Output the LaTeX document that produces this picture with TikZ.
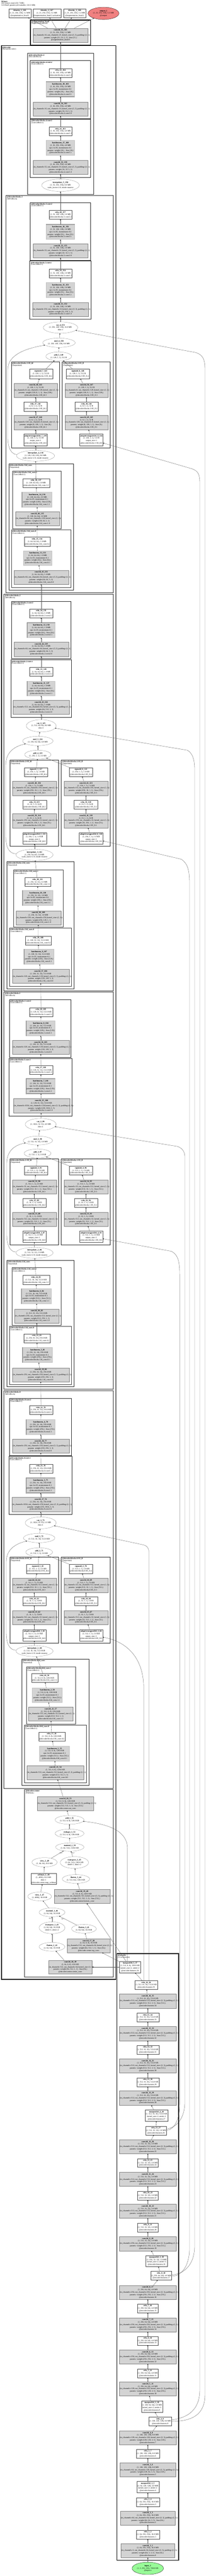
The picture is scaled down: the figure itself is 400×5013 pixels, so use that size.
\documentclass[tikz,border=0pt]{standalone}
\usepackage{fontspec}
\setmainfont{Liberation Serif}
\usepackage{array}
\usetikzlibrary{shapes.geometric}
\usetikzlibrary{arrows.meta}
\definecolor{pgray}{HTML}{D3D3D3}
\definecolor{outred}{HTML}{F08080}
\definecolor{ingreen}{HTML}{98FB98}
\newlength\zwid
\newcolumntype{Z}{>{\hbox to \zwid\bgroup\hfil}c<{\hfil\egroup}}
\newcommand{\zt}[1]{\pgfmathsetlength\zwid{\pgfkeysvalueof{/pgf/minimum width}-1.5}\hbox to 0pt{\hss\begin{tabular}{@{}Z@{}}#1\end{tabular}\hss}}

\begin{document}
\catcode`\_=12
\begin{tikzpicture}[x=1pt, y=-1pt,
    zw/.style={font=\fontsize{3.9}{4.8}\selectfont, inner sep=0pt, line width=0.3pt},
    fnode/.style={zw, ellipse, draw=gray, fill=white},
    mbox/.style={zw, rectangle, draw=black!70, fill=white},
    pbox/.style={zw, rectangle, draw=gray, fill=pgray},
    bnbox/.style={zw, rectangle, draw=gray, fill=pgray, double=pgray!80!gray, double distance=0.7pt},
    clab/.style={font=\fontsize{3.8}{3.7}\selectfont, align=left, anchor=north west, inner sep=0pt},
    clus1/.style={draw=black, line width=1.4pt},
    clus2/.style={draw=black!80, line width=1pt},
    clus3/.style={draw=black!85, line width=0.75pt},
    clus4/.style={draw=black!75, line width=0.55pt},
    link/.style={draw=black!65, line width=0.35pt, -{Stealth[length=2.2pt,width=1.8pt,color=black]}},
    elab/.style={font=\fontsize{2.8}{3}\selectfont, inner sep=0.4pt}]

    \path[use as bounding box, fill=white] (0,0) rectangle (400,5013);

    \node[clab] (title) at (2.5,1.5) {\textbf{MAnet}\\242 tensors total (431.7 MB)\\31539445 params (all trainable, 120.3 MB)};

    \draw[clus1] (59,39) rectangle (176,88);
    \node[clab] (lsh) at (60.5,40.5) {\textbf{@segmentation_head}\\(SegmentationHead)};
    \draw[clus1] (3,89) rectangle (225,3852);
    \node[clab] (ldec) at (4.5,90.5) {\textbf{@decoder}\\(MAnetDecoder)};
    \draw[clus2] (54,104) rectangle (182,378);
    \node[clab] (lbfour) at (55.5,105.5) {\textbf{@decoder.blocks.4}\\(DecoderBlock)};
    \draw[clus3] (59,118) rectangle (176,231);
    \node[clab] (lbfourctwo) at (60.5,119.5) {\textbf{@decoder.blocks.4.conv2}\\(Conv2dReLU)};
    \draw[clus3] (59,232) rectangle (176,345);
    \node[clab] (lbfourcone) at (60.5,233.5) {\textbf{@decoder.blocks.4.conv1}\\(Conv2dReLU)};

    \draw[clus2] (12,380) rectangle (220,1153);
    \node[clab] (lbthree) at (13.5,381.5) {\textbf{@decoder.blocks.3}\\(MFABlock)};
    \draw[clus3] (59,394) rectangle (176,507);
    \node[clab] (lbthreectwo) at (60.5,395.5) {\textbf{@decoder.blocks.3.conv2}\\(Conv2dReLU)};
    \draw[clus3] (58,508) rectangle (177,621);
    \node[clab] (lbthreecone) at (59.5,509.5) {\textbf{@decoder.blocks.3.conv1}\\(Conv2dReLU)};
    \draw[clus3] (22,704) rectangle (116,872);
    \node[clab] (lbthreehl) at (23.5,705.5) {\textbf{@decoder.blocks.3.SE_hl}\\(Sequential)};
    \draw[clus3] (121,704) rectangle (214,872);
    \node[clab] (lbthreell) at (122.5,705.5) {\textbf{@decoder.blocks.3.SE_ll}\\(Sequential)};
    \draw[clus3] (17,903) rectangle (143,1148);
    \node[clab] (lbthreehc) at (18.5,904.5) {\textbf{@decoder.blocks.3.hl_conv}\\(Sequential)};
    \draw[clus4] (24,917) rectangle (119,1029);
    \node[clab] (lbthreehcone) at (25.5,918.5) {\textbf{@decoder.blocks.3.hl_conv.1}\\(Conv2dReLU)};
    \draw[clus4] (22,1031) rectangle (138,1143);
    \node[clab] (lbthreehczero) at (23.5,1032.5) {\textbf{@decoder.blocks.3.hl_conv.0}\\(Conv2dReLU)};

    \draw[clus2] (8,1156) rectangle (220,1928.5);
    \node[clab] (lbtwo) at (9.5,1157.5) {\textbf{@decoder.blocks.2}\\(MFABlock)};
    \draw[clus3] (22,1170) rectangle (138,1282);
    \node[clab] (lbtwoctwo) at (23.5,1171.5) {\textbf{@decoder.blocks.2.conv2}\\(Conv2dReLU)};
    \draw[clus3] (21,1284) rectangle (139,1396);
    \node[clab] (lbtwocone) at (22.5,1285.5) {\textbf{@decoder.blocks.2.conv1}\\(Conv2dReLU)};
    \draw[clus3] (19,1479) rectangle (114,1647);
    \node[clab] (lbtwohl) at (20.5,1480.5) {\textbf{@decoder.blocks.2.SE_hl}\\(Sequential)};
    \draw[clus3] (119,1479) rectangle (214,1647);
    \node[clab] (lbtwoll) at (120.5,1480.5) {\textbf{@decoder.blocks.2.SE_ll}\\(Sequential)};
    \draw[clus3] (13,1677) rectangle (144,1924);
    \node[clab] (lbtwohc) at (14.5,1678.5) {\textbf{@decoder.blocks.2.hl_conv}\\(Sequential)};
    \draw[clus4] (26,1692.5) rectangle (123,1804);
    \node[clab] (lbtwohcone) at (27.5,1694) {\textbf{@decoder.blocks.2.hl_conv.1}\\(Conv2dReLU)};
    \draw[clus4] (18,1806) rectangle (139,1919);
    \node[clab] (lbtwohczero) at (19.5,1807.5) {\textbf{@decoder.blocks.2.hl_conv.0}\\(Conv2dReLU)};

    \draw[clus2] (8,1930.5) rectangle (220,2703);
    \node[clab] (lbone) at (9.5,1932) {\textbf{@decoder.blocks.1}\\(MFABlock)};
    \draw[clus3] (18,1945) rectangle (138,2057.5);
    \node[clab] (lbonectwo) at (19.5,1946.5) {\textbf{@decoder.blocks.1.conv2}\\(Conv2dReLU)};
    \draw[clus3] (17,2059.5) rectangle (140,2171.5);
    \node[clab] (lbonecone) at (18.5,2061) {\textbf{@decoder.blocks.1.conv1}\\(Conv2dReLU)};
    \draw[clus3] (19,2255) rectangle (114,2422.5);
    \node[clab] (lbonehl) at (20.5,2256.5) {\textbf{@decoder.blocks.1.SE_hl}\\(Sequential)};
    \draw[clus3] (119,2255) rectangle (214,2422.5);
    \node[clab] (lbonell) at (120.5,2256.5) {\textbf{@decoder.blocks.1.SE_ll}\\(Sequential)};
    \draw[clus3] (13,2453) rectangle (144,2698);
    \node[clab] (lbonehc) at (14.5,2454.5) {\textbf{@decoder.blocks.1.hl_conv}\\(Sequential)};
    \draw[clus4] (23,2467) rectangle (119,2579);
    \node[clab] (lbonehcone) at (24.5,2468.5) {\textbf{@decoder.blocks.1.hl_conv.1}\\(Conv2dReLU)};
    \draw[clus4] (18,2581) rectangle (139,2694);
    \node[clab] (lbonehczero) at (19.5,2582.5) {\textbf{@decoder.blocks.1.hl_conv.0}\\(Conv2dReLU)};

    \draw[clus2] (8,2706) rectangle (220,3480);
    \node[clab] (lbzero) at (9.5,2707.5) {\textbf{@decoder.blocks.0}\\(MFABlock)};
    \draw[clus3] (18,2721) rectangle (139,2833);
    \node[clab] (lbzeroctwo) at (19.5,2722.5) {\textbf{@decoder.blocks.0.conv2}\\(Conv2dReLU)};
    \draw[clus3] (17,2834) rectangle (140,2947);
    \node[clab] (lbzerocone) at (18.5,2835.5) {\textbf{@decoder.blocks.0.conv1}\\(Conv2dReLU)};
    \draw[clus3] (19,3030) rectangle (114,3198);
    \node[clab] (lbzerohl) at (20.5,3031.5) {\textbf{@decoder.blocks.0.SE_hl}\\(Sequential)};
    \draw[clus3] (119,3030) rectangle (214,3198);
    \node[clab] (lbzeroll) at (120.5,3031.5) {\textbf{@decoder.blocks.0.SE_ll}\\(Sequential)};
    \draw[clus3] (42,3229) rectangle (173,3474);
    \node[clab] (lbzerohc) at (43.5,3230.5) {\textbf{@decoder.blocks.0.hl_conv}\\(Sequential)};
    \draw[clus4] (51,3243.5) rectangle (147,3355);
    \node[clab] (lbzerohcone) at (52.5,3245) {\textbf{@decoder.blocks.0.hl_conv.1}\\(Conv2dReLU)};
    \draw[clus4] (47,3357) rectangle (168,3469);
    \node[clab] (lbzerohczero) at (48.5,3358.5) {\textbf{@decoder.blocks.0.hl_conv.0}\\(Conv2dReLU)};

    \draw[clus2] (48,3482) rectangle (220,3847);
    \node[clab] (lcenter) at (49.5,3483.5) {\textbf{@decoder.center}\\(PABlock)};
    \draw[clus1] (227,3802) rectangle (347,4982.5);
    \node[clab] (lenc) at (228.5,3803.5) {\textbf{@encoder}\\(VGGEncoder)};

    \node[mbox, minimum width=43, minimum height=17] (ident1) at (38.5,25.5) {\zt{\textbf{identity_1_166}\\(1, 21, 256, 256), 5.2 MB\\@segmentation_head.1}};
    \node[mbox, minimum width=54, minimum height=17] (ident2) at (91,25.5) {\zt{\textbf{identity_2_167}\\(1, 21, 256, 256), 5.2 MB\\@segmentation_head.2.activation}};
    \node[mbox, minimum width=44, minimum height=17] (ident3) at (145,25.5) {\zt{\textbf{identity_3_168}\\(1, 21, 256, 256), 5.2 MB\\@segmentation_head.2}};
    \node[fnode, draw=black, fill=outred, minimum width=60, minimum height=24] (output1) at (201,26) {\zt{\textbf{output_1}\\(1, 21, 256, 256), 5.2 MB\\@output}};
    \node[pbox, minimum width=107, minimum height=27] (conv55) at (117.5,68.5) {\zt{\textbf{conv2d_55_165}\\(1, 21, 256, 256), 5.2 MB\\(in_channels=16, out_channels=21, kernel_size=(3, 3), padding=(1, 1))\\params: weight (21, 16, 3, 3) - bias (21,)\\@segmentation_head.0}};

    \node[mbox, minimum width=45, minimum height=17] (relu42) at (117.5,142) {\zt{\textbf{relu_42_164}\\(1, 16, 256, 256), 4.0 MB\\@decoder.blocks.4.conv2.2}};
    \node[bnbox, minimum width=55, minimum height=29] (bn18) at (117.5,174) {\zt{\textbf{batchnorm_18_163}\\(1, 16, 256, 256), 4.0 MB\\eps=1e-05, momentum=0.1\\params: weight (16,) - bias (16,)\\@decoder.blocks.4.conv2.1}};
    \node[pbox, minimum width=107, minimum height=27] (conv54) at (117.5,212) {\zt{\textbf{conv2d_54_162}\\(1, 16, 256, 256), 4.0 MB\\(in_channels=16, out_channels=16, kernel_size=(3, 3), padding=(1, 1))\\params: weight (16, 16, 3, 3)\\@decoder.blocks.4.conv2.0}};
    \node[mbox, minimum width=45, minimum height=17] (relu41) at (117.5,255.5) {\zt{\textbf{relu_41_161}\\(1, 16, 256, 256), 4.0 MB\\@decoder.blocks.4.conv1.2}};
    \node[bnbox, minimum width=55, minimum height=29] (bn17) at (117.5,288) {\zt{\textbf{batchnorm_17_160}\\(1, 16, 256, 256), 4.0 MB\\eps=1e-05, momentum=0.1\\params: weight (16,) - bias (16,)\\@decoder.blocks.4.conv1.1}};
    \node[pbox, minimum width=107, minimum height=27] (conv53) at (117.5,325.5) {\zt{\textbf{conv2d_53_159}\\(1, 16, 256, 256), 4.0 MB\\(in_channels=32, out_channels=16, kernel_size=(3, 3), padding=(1, 1))\\params: weight (16, 32, 3, 3)\\@decoder.blocks.4.conv1.0}};
    \node[fnode, minimum width=73, minimum height=24] (interp5) at (117.5,360.5) {\zt{\textbf{interpolate_5_158}\\(1, 32, 256, 256), 8.0 MB\\scale_factor=2.0, mode=nearest}};

    \node[mbox, minimum width=45, minimum height=17] (relu40) at (117.5,418) {\zt{\textbf{relu_40_157}\\(1, 32, 128, 128), 2.0 MB\\@decoder.blocks.3.conv2.2}};
    \node[bnbox, minimum width=55, minimum height=29] (bn16) at (117.5,451.5) {\zt{\textbf{batchnorm_16_156}\\(1, 32, 128, 128), 2.0 MB\\eps=1e-05, momentum=0.1\\params: weight (32,) - bias (32,)\\@decoder.blocks.3.conv2.1}};
    \node[pbox, minimum width=107, minimum height=27] (conv52) at (117.5,488) {\zt{\textbf{conv2d_52_155}\\(1, 32, 128, 128), 2.0 MB\\(in_channels=32, out_channels=32, kernel_size=(3, 3), padding=(1, 1))\\params: weight (32, 32, 3, 3)\\@decoder.blocks.3.conv2.0}};
    \node[mbox, minimum width=45, minimum height=17] (relu39) at (117.5,532) {\zt{\textbf{relu_39_154}\\(1, 32, 128, 128), 2.0 MB\\@decoder.blocks.3.conv1.2}};
    \node[bnbox, minimum width=55, minimum height=29] (bn15) at (117.5,564.5) {\zt{\textbf{batchnorm_15_153}\\(1, 32, 128, 128), 2.0 MB\\eps=1e-05, momentum=0.1\\params: weight (32,) - bias (32,)\\@decoder.blocks.3.conv1.1}};
    \node[pbox, minimum width=109, minimum height=27] (conv51) at (117.5,602) {\zt{\textbf{conv2d_51_152}\\(1, 32, 128, 128), 2.0 MB\\(in_channels=256, out_channels=32, kernel_size=(3, 3), padding=(1, 1))\\params: weight (32, 256, 3, 3)\\@decoder.blocks.3.conv1.0}};
    \node[fnode, minimum width=67, minimum height=22] (cat4) at (117.5,637.5) {\zt{\textbf{cat_4_151}\\(1, 256, 128, 128), 16.0 MB\\dim=1}};
    \node[fnode, minimum width=63, minimum height=18] (mul4) at (114.5,667) {\zt{\textbf{mul_4_150}\\(1, 128, 128, 128), 8.0 MB}};
    \node[fnode, minimum width=50, minimum height=17] (add5) at (114,693.5) {\zt{\textbf{add_5_149}\\(1, 128, 1, 1), 512 B}};
    \node[mbox, minimum width=45, minimum height=19] (sig7) at (79.5,727.5) {\zt{\textbf{sigmoid_7_143}\\(1, 128, 1, 1), 512 B\\@decoder.blocks.3.SE_hl.4}};
    \node[pbox, minimum width=84, minimum height=27] (conv48) at (69,759.5) {\zt{\textbf{conv2d_48_142}\\(1, 128, 1, 1), 512 B\\(in_channels=8, out_channels=128, kernel_size=(1, 1))\\params: weight (128, 8, 1, 1) - bias (128,)\\@decoder.blocks.3.SE_hl.3}};
    \node[mbox, minimum width=45, minimum height=18] (relu37) at (69,791) {\zt{\textbf{relu_37_141}\\(1, 8, 1, 1), 32 B\\@decoder.blocks.3.SE_hl.2}};
    \node[pbox, minimum width=84, minimum height=28] (conv47) at (69,822) {\zt{\textbf{conv2d_47_140}\\(1, 8, 1, 1), 32 B\\(in_channels=128, out_channels=8, kernel_size=(1, 1))\\params: weight (8, 128, 1, 1) - bias (8,)\\@decoder.blocks.3.SE_hl.1}};
    \node[mbox, minimum width=45, minimum height=23] (avg7) at (69,855.5) {\zt{\textbf{adaptiveavgpool2d_7_139}\\(1, 128, 1, 1), 512 B\\output_size=1\\@decoder.blocks.3.SE_hl.0}};
    \node[mbox, minimum width=45, minimum height=19] (sig8) at (151,727.5) {\zt{\textbf{sigmoid_8_148}\\(1, 128, 1, 1), 512 B\\@decoder.blocks.3.SE_ll.4}};
    \node[pbox, minimum width=84, minimum height=27] (conv50) at (168,759.5) {\zt{\textbf{conv2d_50_147}\\(1, 128, 1, 1), 512 B\\(in_channels=8, out_channels=128, kernel_size=(1, 1))\\params: weight (128, 8, 1, 1) - bias (128,)\\@decoder.blocks.3.SE_ll.3}};
    \node[mbox, minimum width=45, minimum height=18] (relu38) at (168,791) {\zt{\textbf{relu_38_146}\\(1, 8, 1, 1), 32 B\\@decoder.blocks.3.SE_ll.2}};
    \node[pbox, minimum width=84, minimum height=28] (conv49) at (168,822) {\zt{\textbf{conv2d_49_145}\\(1, 8, 1, 1), 32 B\\(in_channels=128, out_channels=8, kernel_size=(1, 1))\\params: weight (8, 128, 1, 1) - bias (8,)\\@decoder.blocks.3.SE_ll.1}};
    \node[mbox, minimum width=45, minimum height=23] (avg8) at (177.5,855.5) {\zt{\textbf{adaptiveavgpool2d_8_144}\\(1, 128, 1, 1), 512 B\\output_size=1\\@decoder.blocks.3.SE_ll.0}};
    \node[fnode, minimum width=74, minimum height=21] (interp4) at (69,887) {\zt{\textbf{interpolate_4_138}\\(1, 128, 128, 128), 8.0 MB\\scale_factor=2.0, mode=nearest}};
    \node[mbox, minimum width=52, minimum height=17] (relu36) at (70,940) {\zt{\textbf{relu_36_137}\\(1, 128, 64, 64), 2.0 MB\\@decoder.blocks.3.hl_conv.1.2}};
    \node[bnbox, minimum width=58, minimum height=29] (bn14) at (72,972.5) {\zt{\textbf{batchnorm_14_136}\\(1, 128, 64, 64), 2.0 MB\\eps=1e-05, momentum=0.1\\params: weight (128,) - bias (128,)\\@decoder.blocks.3.hl_conv.1.1}};
    \node[pbox, minimum width=85, minimum height=27] (conv46) at (72.5,1009.5) {\zt{\textbf{conv2d_46_135}\\(1, 128, 64, 64), 2.0 MB\\(in_channels=64, out_channels=128, kernel_size=(1, 1))\\params: weight (128, 64, 1, 1)\\@decoder.blocks.3.hl_conv.1.0}};
    \node[mbox, minimum width=50, minimum height=18] (relu35) at (72,1054) {\zt{\textbf{relu_35_134}\\(1, 64, 64, 64), 1.0 MB\\@decoder.blocks.3.hl_conv.0.2}};
    \node[bnbox, minimum width=55, minimum height=28] (bn13) at (73,1086) {\zt{\textbf{batchnorm_13_133}\\(1, 64, 64, 64), 1.0 MB\\eps=1e-05, momentum=0.1\\params: weight (64,) - bias (64,)\\@decoder.blocks.3.hl_conv.0.1}};
    \node[pbox, minimum width=106, minimum height=27] (conv45) at (80,1123.5) {\zt{\textbf{conv2d_45_132}\\(1, 64, 64, 64), 1.0 MB\\(in_channels=64, out_channels=64, kernel_size=(3, 3), padding=(1, 1))\\params: weight (64, 64, 3, 3)\\@decoder.blocks.3.hl_conv.0.0}};

    \node[mbox, minimum width=45, minimum height=17] (relu34) at (80,1193.5) {\zt{\textbf{relu_34_131}\\(1, 64, 64, 64), 1.0 MB\\@decoder.blocks.2.conv2.2}};
    \node[bnbox, minimum width=54, minimum height=29] (bn12) at (80,1226.5) {\zt{\textbf{batchnorm_12_130}\\(1, 64, 64, 64), 1.0 MB\\eps=1e-05, momentum=0.1\\params: weight (64,) - bias (64,)\\@decoder.blocks.2.conv2.1}};
    \node[pbox, minimum width=106, minimum height=28] (conv44) at (80,1263) {\zt{\textbf{conv2d_44_129}\\(1, 64, 64, 64), 1.0 MB\\(in_channels=64, out_channels=64, kernel_size=(3, 3), padding=(1, 1))\\params: weight (64, 64, 3, 3)\\@decoder.blocks.2.conv2.0}};
    \node[mbox, minimum width=45, minimum height=17] (relu33) at (80,1307.5) {\zt{\textbf{relu_33_128}\\(1, 64, 64, 64), 1.0 MB\\@decoder.blocks.2.conv1.2}};
    \node[bnbox, minimum width=54, minimum height=28] (bn11) at (80,1340) {\zt{\textbf{batchnorm_11_127}\\(1, 64, 64, 64), 1.0 MB\\eps=1e-05, momentum=0.1\\params: weight (64,) - bias (64,)\\@decoder.blocks.2.conv1.1}};
    \node[pbox, minimum width=109, minimum height=27] (conv43) at (80,1376.5) {\zt{\textbf{conv2d_43_126}\\(1, 64, 64, 64), 1.0 MB\\(in_channels=512, out_channels=64, kernel_size=(3, 3), padding=(1, 1))\\params: weight (64, 512, 3, 3)\\@decoder.blocks.2.conv1.0}};
    \node[fnode, minimum width=58, minimum height=24] (cat3) at (80,1412.5) {\zt{\textbf{cat_3_125}\\(1, 512, 64, 64), 8.0 MB\\dim=1}};
    \node[fnode, minimum width=59, minimum height=18] (mul3) at (73.5,1442) {\zt{\textbf{mul_3_124}\\(1, 256, 64, 64), 4.0 MB}};
    \node[fnode, minimum width=51, minimum height=17] (add4) at (73.5,1468.5) {\zt{\textbf{add_4_123}\\(1, 256, 1, 1), 1.0 KB}};
    \node[mbox, minimum width=45, minimum height=17] (sig5) at (70,1502.5) {\zt{\textbf{sigmoid_5_117}\\(1, 256, 1, 1), 1.0 KB\\@decoder.blocks.2.SE_hl.4}};
    \node[pbox, minimum width=85, minimum height=28] (conv40) at (66.5,1534) {\zt{\textbf{conv2d_40_116}\\(1, 256, 1, 1), 1.0 KB\\(in_channels=16, out_channels=256, kernel_size=(1, 1))\\params: weight (256, 16, 1, 1) - bias (256,)\\@decoder.blocks.2.SE_hl.3}};
    \node[mbox, minimum width=46, minimum height=17] (relu31) at (67,1566) {\zt{\textbf{relu_31_115}\\(1, 16, 1, 1), 64 B\\@decoder.blocks.2.SE_hl.2}};
    \node[pbox, minimum width=85, minimum height=28] (conv39) at (66.5,1597) {\zt{\textbf{conv2d_39_114}\\(1, 16, 1, 1), 64 B\\(in_channels=256, out_channels=16, kernel_size=(1, 1))\\params: weight (16, 256, 1, 1) - bias (16,)\\@decoder.blocks.2.SE_hl.1}};
    \node[mbox, minimum width=46, minimum height=22] (avg5) at (67,1631) {\zt{\textbf{adaptiveavgpool2d_5_113}\\(1, 256, 1, 1), 1.0 KB\\output_size=1\\@decoder.blocks.2.SE_hl.0}};
    \node[mbox, minimum width=45, minimum height=17] (sig6) at (157,1502.5) {\zt{\textbf{sigmoid_6_122}\\(1, 256, 1, 1), 1.0 KB\\@decoder.blocks.2.SE_ll.4}};
    \node[pbox, minimum width=85, minimum height=28] (conv42) at (167,1534) {\zt{\textbf{conv2d_42_121}\\(1, 256, 1, 1), 1.0 KB\\(in_channels=16, out_channels=256, kernel_size=(1, 1))\\params: weight (256, 16, 1, 1) - bias (256,)\\@decoder.blocks.2.SE_ll.3}};
    \node[mbox, minimum width=46, minimum height=17] (relu32) at (167,1566) {\zt{\textbf{relu_32_120}\\(1, 16, 1, 1), 64 B\\@decoder.blocks.2.SE_ll.2}};
    \node[pbox, minimum width=85, minimum height=28] (conv41) at (167,1597) {\zt{\textbf{conv2d_41_119}\\(1, 16, 1, 1), 64 B\\(in_channels=256, out_channels=16, kernel_size=(1, 1))\\params: weight (16, 256, 1, 1) - bias (16,)\\@decoder.blocks.2.SE_ll.1}};
    \node[mbox, minimum width=46, minimum height=22] (avg6) at (177,1631) {\zt{\textbf{adaptiveavgpool2d_6_118}\\(1, 256, 1, 1), 1.0 KB\\output_size=1\\@decoder.blocks.2.SE_ll.0}};
    \node[fnode, minimum width=72, minimum height=22] (interp3) at (67,1663.5) {\zt{\textbf{interpolate_3_112}\\(1, 256, 64, 64), 4.0 MB\\scale_factor=2.0, mode=nearest}};
    \node[mbox, minimum width=50, minimum height=17] (relu30) at (73,1716.5) {\zt{\textbf{relu_30_111}\\(1, 256, 32, 32), 1.0 MB\\@decoder.blocks.2.hl_conv.1.2}};
    \node[bnbox, minimum width=59, minimum height=29] (bn10) at (73.5,1747.5) {\zt{\textbf{batchnorm_10_110}\\(1, 256, 32, 32), 1.0 MB\\eps=1e-05, momentum=0.1\\params: weight (256,) - bias (256,)\\@decoder.blocks.2.hl_conv.1.1}};
    \node[pbox, minimum width=87, minimum height=27] (conv38) at (74.5,1786) {\zt{\textbf{conv2d_38_109}\\(1, 256, 32, 32), 1.0 MB\\(in_channels=128, out_channels=256, kernel_size=(1, 1))\\params: weight (256, 128, 1, 1)\\@decoder.blocks.2.hl_conv.1.0}};
    \node[mbox, minimum width=50, minimum height=17] (relu29) at (74,1830) {\zt{\textbf{relu_29_108}\\(1, 128, 32, 32), 512.0 KB\\@decoder.blocks.2.hl_conv.0.2}};
    \node[bnbox, minimum width=58, minimum height=29] (bn9) at (76,1862) {\zt{\textbf{batchnorm_9_107}\\(1, 128, 32, 32), 512.0 KB\\eps=1e-05, momentum=0.1\\params: weight (128,) - bias (128,)\\@decoder.blocks.2.hl_conv.0.1}};
    \node[pbox, minimum width=110, minimum height=27] (conv37) at (79,1900) {\zt{\textbf{conv2d_37_106}\\(1, 128, 32, 32), 512.0 KB\\(in_channels=128, out_channels=128, kernel_size=(3, 3), padding=(1, 1))\\params: weight (128, 128, 3, 3)\\@decoder.blocks.2.hl_conv.0.0}};

    \node[mbox, minimum width=45, minimum height=17] (relu28) at (79.5,1969.5) {\zt{\textbf{relu_28_105}\\(1, 128, 32, 32), 512.0 KB\\@decoder.blocks.1.conv2.2}};
    \node[bnbox, minimum width=56, minimum height=29] (bn8) at (79,2001) {\zt{\textbf{batchnorm_8_104}\\(1, 128, 32, 32), 512.0 KB\\eps=1e-05, momentum=0.1\\params: weight (128,) - bias (128,)\\@decoder.blocks.1.conv2.1}};
    \node[pbox, minimum width=110, minimum height=27] (conv36) at (79,2038) {\zt{\textbf{conv2d_36_103}\\(1, 128, 32, 32), 512.0 KB\\(in_channels=128, out_channels=128, kernel_size=(3, 3), padding=(1, 1))\\params: weight (128, 128, 3, 3)\\@decoder.blocks.1.conv2.0}};
    \node[mbox, minimum width=45, minimum height=17] (relu27) at (79.5,2082.5) {\zt{\textbf{relu_27_102}\\(1, 128, 32, 32), 512.0 KB\\@decoder.blocks.1.conv1.2}};
    \node[bnbox, minimum width=56, minimum height=29] (bn7) at (79,2114) {\zt{\textbf{batchnorm_7_101}\\(1, 128, 32, 32), 512.0 KB\\eps=1e-05, momentum=0.1\\params: weight (128,) - bias (128,)\\@decoder.blocks.1.conv1.1}};
    \node[pbox, minimum width=109, minimum height=28] (conv35) at (80.5,2152) {\zt{\textbf{conv2d_35_100}\\(1, 128, 32, 32), 512.0 KB\\(in_channels=1024, out_channels=128, kernel_size=(3, 3), padding=(1, 1))\\params: weight (128, 1024, 3, 3)\\@decoder.blocks.1.conv1.0}};
    \node[fnode, minimum width=60, minimum height=23] (cat2) at (79,2188) {\zt{\textbf{cat_2_99}\\(1, 1024, 32, 32), 4.0 MB\\dim=1}};
    \node[fnode, minimum width=57, minimum height=17] (mul2) at (73.5,2219.5) {\zt{\textbf{mul_2_98}\\(1, 512, 32, 32), 2.0 MB}};
    \node[fnode, minimum width=52, minimum height=17] (add3) at (73,2244.5) {\zt{\textbf{add_3_97}\\(1, 512, 1, 1), 2.0 KB}};
    \node[mbox, minimum width=45, minimum height=17] (sig3) at (70,2278) {\zt{\textbf{sigmoid_3_91}\\(1, 512, 1, 1), 2.0 KB\\@decoder.blocks.1.SE_hl.4}};
    \node[pbox, minimum width=85, minimum height=27] (conv32) at (66.5,2309.5) {\zt{\textbf{conv2d_32_90}\\(1, 512, 1, 1), 2.0 KB\\(in_channels=32, out_channels=512, kernel_size=(1, 1))\\params: weight (512, 32, 1, 1) - bias (512,)\\@decoder.blocks.1.SE_hl.3}};
    \node[mbox, minimum width=45, minimum height=17] (relu25) at (66.5,2341) {\zt{\textbf{relu_25_89}\\(1, 32, 1, 1), 128 B\\@decoder.blocks.1.SE_hl.2}};
    \node[pbox, minimum width=85, minimum height=27] (conv31) at (66.5,2372.5) {\zt{\textbf{conv2d_31_88}\\(1, 32, 1, 1), 128 B\\(in_channels=512, out_channels=32, kernel_size=(1, 1))\\params: weight (32, 512, 1, 1) - bias (32,)\\@decoder.blocks.1.SE_hl.1}};
    \node[mbox, minimum width=45, minimum height=22] (avg3) at (66.5,2406.5) {\zt{\textbf{adaptiveavgpool2d_3_87}\\(1, 512, 1, 1), 2.0 KB\\output_size=1\\@decoder.blocks.1.SE_hl.0}};
    \node[mbox, minimum width=45, minimum height=17] (sig4) at (157,2278) {\zt{\textbf{sigmoid_4_96}\\(1, 512, 1, 1), 2.0 KB\\@decoder.blocks.1.SE_ll.4}};
    \node[pbox, minimum width=85, minimum height=27] (conv34) at (167,2309.5) {\zt{\textbf{conv2d_34_95}\\(1, 512, 1, 1), 2.0 KB\\(in_channels=32, out_channels=512, kernel_size=(1, 1))\\params: weight (512, 32, 1, 1) - bias (512,)\\@decoder.blocks.1.SE_ll.3}};
    \node[mbox, minimum width=45, minimum height=17] (relu26) at (167,2341) {\zt{\textbf{relu_26_94}\\(1, 32, 1, 1), 128 B\\@decoder.blocks.1.SE_ll.2}};
    \node[pbox, minimum width=85, minimum height=27] (conv33) at (167,2372.5) {\zt{\textbf{conv2d_33_93}\\(1, 32, 1, 1), 128 B\\(in_channels=512, out_channels=32, kernel_size=(1, 1))\\params: weight (32, 512, 1, 1) - bias (32,)\\@decoder.blocks.1.SE_ll.1}};
    \node[mbox, minimum width=45, minimum height=22] (avg4) at (177,2406.5) {\zt{\textbf{adaptiveavgpool2d_4_92}\\(1, 512, 1, 1), 2.0 KB\\output_size=1\\@decoder.blocks.1.SE_ll.0}};
    \node[fnode, minimum width=72, minimum height=21] (interp2) at (67,2438) {\zt{\textbf{interpolate_2_86}\\(1, 512, 32, 32), 2.0 MB\\scale_factor=2.0, mode=nearest}};
    \node[mbox, minimum width=52, minimum height=18] (relu24) at (70,2491) {\zt{\textbf{relu_24_85}\\(1, 512, 16, 16), 512.0 KB\\@decoder.blocks.1.hl_conv.1.2}};
    \node[bnbox, minimum width=58, minimum height=29] (bn6) at (71,2522.5) {\zt{\textbf{batchnorm_6_84}\\(1, 512, 16, 16), 512.0 KB\\eps=1e-05, momentum=0.1\\params: weight (512,) - bias (512,)\\@decoder.blocks.1.hl_conv.1.1}};
    \node[pbox, minimum width=86, minimum height=27] (conv30) at (71.5,2561) {\zt{\textbf{conv2d_30_83}\\(1, 512, 16, 16), 512.0 KB\\(in_channels=256, out_channels=512, kernel_size=(1, 1))\\params: weight (512, 256, 1, 1)\\@decoder.blocks.1.hl_conv.1.0}};
    \node[mbox, minimum width=51, minimum height=17] (relu23) at (71.5,2604.5) {\zt{\textbf{relu_23_82}\\(1, 256, 16, 16), 256.0 KB\\@decoder.blocks.1.hl_conv.0.2}};
    \node[bnbox, minimum width=58, minimum height=29] (bn5) at (73,2637) {\zt{\textbf{batchnorm_5_81}\\(1, 256, 16, 16), 256.0 KB\\eps=1e-05, momentum=0.1\\params: weight (256,) - bias (256,)\\@decoder.blocks.1.hl_conv.0.1}};
    \node[pbox, minimum width=110, minimum height=27] (conv29) at (79,2675.5) {\zt{\textbf{conv2d_29_80}\\(1, 256, 16, 16), 256.0 KB\\(in_channels=256, out_channels=256, kernel_size=(3, 3), padding=(1, 1))\\params: weight (256, 256, 3, 3)\\@decoder.blocks.1.hl_conv.0.0}};

    \node[mbox, minimum width=45, minimum height=17] (relu22) at (79.5,2744) {\zt{\textbf{relu_22_79}\\(1, 256, 16, 16), 256.0 KB\\@decoder.blocks.0.conv2.2}};
    \node[bnbox, minimum width=56, minimum height=29] (bn4) at (79,2777) {\zt{\textbf{batchnorm_4_78}\\(1, 256, 16, 16), 256.0 KB\\eps=1e-05, momentum=0.1\\params: weight (256,) - bias (256,)\\@decoder.blocks.0.conv2.1}};
    \node[pbox, minimum width=110, minimum height=27] (conv28) at (79,2814) {\zt{\textbf{conv2d_28_77}\\(1, 256, 16, 16), 256.0 KB\\(in_channels=256, out_channels=256, kernel_size=(3, 3), padding=(1, 1))\\params: weight (256, 256, 3, 3)\\@decoder.blocks.0.conv2.0}};
    \node[mbox, minimum width=45, minimum height=17] (relu21) at (79.5,2858) {\zt{\textbf{relu_21_76}\\(1, 256, 16, 16), 256.0 KB\\@decoder.blocks.0.conv1.2}};
    \node[bnbox, minimum width=56, minimum height=29] (bn3) at (79,2891) {\zt{\textbf{batchnorm_3_75}\\(1, 256, 16, 16), 256.0 KB\\eps=1e-05, momentum=0.1\\params: weight (256,) - bias (256,)\\@decoder.blocks.0.conv1.1}};
    \node[pbox, minimum width=112, minimum height=28] (conv27) at (79,2928) {\zt{\textbf{conv2d_27_74}\\(1, 256, 16, 16), 256.0 KB\\(in_channels=1024, out_channels=256, kernel_size=(3, 3), padding=(1, 1))\\params: weight (256, 1024, 3, 3)\\@decoder.blocks.0.conv1.0}};
    \node[fnode, minimum width=60, minimum height=23] (cat1) at (79,2963.5) {\zt{\textbf{cat_1_73}\\(1, 1024, 16, 16), 1.0 MB\\dim=1}};
    \node[fnode, minimum width=61, minimum height=18] (mul1) at (76,2993) {\zt{\textbf{mul_1_72}\\(1, 512, 16, 16), 512.0 KB}};
    \node[fnode, minimum width=52, minimum height=17] (add2) at (76,3020.5) {\zt{\textbf{add_2_71}\\(1, 512, 1, 1), 2.0 KB}};
    \node[mbox, minimum width=45, minimum height=18] (sig1) at (73.5,3053) {\zt{\textbf{sigmoid_1_65}\\(1, 512, 1, 1), 2.0 KB\\@decoder.blocks.0.SE_hl.4}};
    \node[pbox, minimum width=85, minimum height=28] (conv24) at (66.5,3085) {\zt{\textbf{conv2d_24_64}\\(1, 512, 1, 1), 2.0 KB\\(in_channels=32, out_channels=512, kernel_size=(1, 1))\\params: weight (512, 32, 1, 1) - bias (512,)\\@decoder.blocks.0.SE_hl.3}};
    \node[mbox, minimum width=45, minimum height=17] (relu19) at (66.5,3116) {\zt{\textbf{relu_19_63}\\(1, 32, 1, 1), 128 B\\@decoder.blocks.0.SE_hl.2}};
    \node[pbox, minimum width=85, minimum height=27] (conv23) at (66.5,3147.5) {\zt{\textbf{conv2d_23_62}\\(1, 32, 1, 1), 128 B\\(in_channels=512, out_channels=32, kernel_size=(1, 1))\\params: weight (32, 512, 1, 1) - bias (32,)\\@decoder.blocks.0.SE_hl.1}};
    \node[mbox, minimum width=45, minimum height=22] (avg1) at (66.5,3182) {\zt{\textbf{adaptiveavgpool2d_1_61}\\(1, 512, 1, 1), 2.0 KB\\output_size=1\\@decoder.blocks.0.SE_hl.0}};
    \node[mbox, minimum width=45, minimum height=18] (sig2) at (157,3053) {\zt{\textbf{sigmoid_2_70}\\(1, 512, 1, 1), 2.0 KB\\@decoder.blocks.0.SE_ll.4}};
    \node[pbox, minimum width=85, minimum height=28] (conv26) at (167,3085) {\zt{\textbf{conv2d_26_69}\\(1, 512, 1, 1), 2.0 KB\\(in_channels=32, out_channels=512, kernel_size=(1, 1))\\params: weight (512, 32, 1, 1) - bias (512,)\\@decoder.blocks.0.SE_ll.3}};
    \node[mbox, minimum width=45, minimum height=17] (relu20) at (167,3116) {\zt{\textbf{relu_20_68}\\(1, 32, 1, 1), 128 B\\@decoder.blocks.0.SE_ll.2}};
    \node[pbox, minimum width=85, minimum height=27] (conv25) at (167,3147.5) {\zt{\textbf{conv2d_25_67}\\(1, 32, 1, 1), 128 B\\(in_channels=512, out_channels=32, kernel_size=(1, 1))\\params: weight (32, 512, 1, 1) - bias (32,)\\@decoder.blocks.0.SE_ll.1}};
    \node[mbox, minimum width=45, minimum height=22] (avg2) at (177,3182) {\zt{\textbf{adaptiveavgpool2d_2_66}\\(1, 512, 1, 1), 2.0 KB\\output_size=1\\@decoder.blocks.0.SE_ll.0}};
    \node[fnode, minimum width=72, minimum height=21] (interp1) at (67,3213) {\zt{\textbf{interpolate_1_60}\\(1, 512, 16, 16), 512.0 KB\\scale_factor=2.0, mode=nearest}};
    \node[mbox, minimum width=51, minimum height=17] (relu18) at (86.5,3265.5) {\zt{\textbf{relu_18_59}\\(1, 512, 8, 8), 128.0 KB\\@decoder.blocks.0.hl_conv.1.2}};
    \node[bnbox, minimum width=58, minimum height=28] (bn2) at (92,3299) {\zt{\textbf{batchnorm_2_58}\\(1, 512, 8, 8), 128.0 KB\\eps=1e-05, momentum=0.1\\params: weight (512,) - bias (512,)\\@decoder.blocks.0.hl_conv.1.1}};
    \node[pbox, minimum width=87, minimum height=27] (conv22) at (98.5,3335.5) {\zt{\textbf{conv2d_22_57}\\(1, 512, 8, 8), 128.0 KB\\(in_channels=512, out_channels=512, kernel_size=(1, 1))\\params: weight (512, 512, 1, 1)\\@decoder.blocks.0.hl_conv.1.0}};
    \node[mbox, minimum width=51, minimum height=17] (relu17) at (100.5,3379.5) {\zt{\textbf{relu_17_56}\\(1, 512, 8, 8), 128.0 KB\\@decoder.blocks.0.hl_conv.0.2}};
    \node[bnbox, minimum width=58, minimum height=29] (bn1) at (106,3412.5) {\zt{\textbf{batchnorm_1_55}\\(1, 512, 8, 8), 128.0 KB\\eps=1e-05, momentum=0.1\\params: weight (512,) - bias (512,)\\@decoder.blocks.0.hl_conv.0.1}};
    \node[pbox, minimum width=111, minimum height=27] (conv21) at (107.5,3449.5) {\zt{\textbf{conv2d_21_54}\\(1, 512, 8, 8), 128.0 KB\\(in_channels=512, out_channels=512, kernel_size=(3, 3), padding=(1, 1))\\params: weight (512, 512, 3, 3)\\@decoder.blocks.0.hl_conv.0.0}};

    \node[pbox, minimum width=110, minimum height=27] (conv20) at (127,3510) {\zt{\textbf{conv2d_20_53}\\(1, 512, 8, 8), 128.0 KB\\(in_channels=512, out_channels=512, kernel_size=(3, 3), padding=(1, 1))\\params: weight (512, 512, 3, 3) - bias (512,)\\@decoder.center.out_conv}};
    \node[fnode, minimum width=56, minimum height=17] (add1) at (135,3541.5) {\zt{\textbf{add_1_52}\\(1, 512, 8, 8), 128.0 KB}};
    \node[fnode, minimum width=56, minimum height=17] (reshape1) at (135,3568) {\zt{\textbf{reshape_1_51}\\(1, 512, 8, 8), 128.0 KB}};
    \node[fnode, minimum width=55, minimum height=16] (matmul2) at (135.5,3594.5) {\zt{\textbf{matmul_2_50}\\(1, 64, 512), 128.0 KB}};
    \node[fnode, minimum width=49, minimum height=18] (view2) at (86.5,3624) {\zt{\textbf{view_2_49}\\(1, 64, 64), 16.0 KB}};
    \node[fnode, minimum width=55, minimum height=23] (transp2) at (144.5,3624.5) {\zt{\textbf{transpose_2_45}\\(1, 64, 512), 128.0 KB\\dim0=1, dim1=2}};
    \node[mbox, minimum width=49, minimum height=21] (softmax1) at (84.5,3656.5) {\zt{\textbf{softmax_1_48}\\(1, 4096), 16.0 KB\\dim=1\\@decoder.center.map_softmax}};
    \node[fnode, minimum width=53, minimum height=17] (flatten3) at (147.5,3656.5) {\zt{\textbf{flatten_3_44}\\(1, 512, 64), 128.0 KB}};
    \node[pbox, minimum width=109, minimum height=27] (conv19) at (159.5,3690.5) {\zt{\textbf{conv2d_19_40}\\(1, 512, 8, 8), 128.0 KB\\(in_channels=512, out_channels=512, kernel_size=(3, 3), padding=(1, 1))\\params: weight (512, 512, 3, 3) - bias (512,)\\@decoder.center.bottom_conv}};
    \node[fnode, minimum width=46, minimum height=17] (view1) at (77,3690.5) {\zt{\textbf{view_1_47}\\(1, 4096), 16.0 KB}};
    \node[fnode, minimum width=50, minimum height=17] (matmul1) at (101,3721.5) {\zt{\textbf{matmul_1_46}\\(1, 64, 64), 16.0 KB}};
    \node[fnode, minimum width=50, minimum height=23] (transp1) at (101,3751.5) {\zt{\textbf{transpose_1_43}\\(1, 64, 64), 16.0 KB\\dim0=1, dim1=2}};
    \node[fnode, minimum width=48, minimum height=17] (flatten1) at (163,3753.5) {\zt{\textbf{flatten_1_41}\\(1, 64, 64), 16.0 KB}};
    \node[fnode, minimum width=50, minimum height=17] (flatten2) at (101,3788.5) {\zt{\textbf{flatten_2_42}\\(1, 64, 64), 16.0 KB}};
    \node[pbox, minimum width=84, minimum height=27] (conv17) at (172,3786.5) {\zt{\textbf{conv2d_17_38}\\(1, 64, 8, 8), 16.0 KB\\(in_channels=512, out_channels=64, kernel_size=(1, 1))\\params: weight (64, 512, 1, 1) - bias (64,)\\@decoder.center.top_conv}};
    \node[pbox, minimum width=85, minimum height=27] (conv18) at (136.5,3828) {\zt{\textbf{conv2d_18_39}\\(1, 64, 8, 8), 16.0 KB\\(in_channels=512, out_channels=64, kernel_size=(1, 1))\\params: weight (64, 512, 1, 1) - bias (64,)\\@decoder.center.center_conv}};

    \node[mbox, minimum width=41, minimum height=22] (maxpool5) at (252.5,3828) {\zt{\textbf{maxpool2d_5_37}\\(1, 512, 8, 8), 128.0 KB\\kernel_size=2, stride=2\\@encoder.features.36}};
    \node[mbox, minimum width=44, minimum height=17] (relu16) at (284,3863) {\zt{\textbf{relu_16_36}\\(1, 512, 16, 16), 512.0 KB\\@encoder.features.35}};
    \node[pbox, minimum width=110, minimum height=28] (conv16) at (287,3894) {\zt{\textbf{conv2d_16_35}\\(1, 512, 16, 16), 512.0 KB\\(in_channels=512, out_channels=512, kernel_size=(3, 3), padding=(1, 1))\\params: weight (512, 512, 3, 3) - bias (512,)\\@encoder.features.34}};
    \node[mbox, minimum width=43, minimum height=17] (relu15) at (287,3926) {\zt{\textbf{relu_15_34}\\(1, 512, 16, 16), 512.0 KB\\@encoder.features.33}};
    \node[pbox, minimum width=110, minimum height=28] (conv15) at (287,3957) {\zt{\textbf{conv2d_15_33}\\(1, 512, 16, 16), 512.0 KB\\(in_channels=512, out_channels=512, kernel_size=(3, 3), padding=(1, 1))\\params: weight (512, 512, 3, 3) - bias (512,)\\@encoder.features.32}};
    \node[mbox, minimum width=43, minimum height=17] (relu14) at (287,3989) {\zt{\textbf{relu_14_32}\\(1, 512, 16, 16), 512.0 KB\\@encoder.features.31}};
    \node[pbox, minimum width=110, minimum height=27] (conv14) at (287,4020) {\zt{\textbf{conv2d_14_31}\\(1, 512, 16, 16), 512.0 KB\\(in_channels=512, out_channels=512, kernel_size=(3, 3), padding=(1, 1))\\params: weight (512, 512, 3, 3) - bias (512,)\\@encoder.features.30}};
    \node[mbox, minimum width=43, minimum height=17] (relu13) at (287,4052) {\zt{\textbf{relu_13_30}\\(1, 512, 16, 16), 512.0 KB\\@encoder.features.29}};
    \node[pbox, minimum width=110, minimum height=28] (conv13) at (287,4083) {\zt{\textbf{conv2d_13_29}\\(1, 512, 16, 16), 512.0 KB\\(in_channels=512, out_channels=512, kernel_size=(3, 3), padding=(1, 1))\\params: weight (512, 512, 3, 3) - bias (512,)\\@encoder.features.28}};
    \node[mbox, minimum width=44, minimum height=22] (maxpool4) at (304,4117) {\zt{\textbf{maxpool2d_4_28}\\(1, 512, 16, 16), 512.0 KB\\kernel_size=2, stride=2\\@encoder.features.27}};
    \node[mbox, minimum width=40, minimum height=17] (relu12) at (303,4146) {\zt{\textbf{relu_12_27}\\(1, 512, 32, 32), 2.0 MB\\@encoder.features.26}};
    \node[pbox, minimum width=110, minimum height=27] (conv12) at (287,4177.5) {\zt{\textbf{conv2d_12_26}\\(1, 512, 32, 32), 2.0 MB\\(in_channels=512, out_channels=512, kernel_size=(3, 3), padding=(1, 1))\\params: weight (512, 512, 3, 3) - bias (512,)\\@encoder.features.25}};
    \node[mbox, minimum width=40, minimum height=17] (relu11) at (287,4209) {\zt{\textbf{relu_11_25}\\(1, 512, 32, 32), 2.0 MB\\@encoder.features.24}};
    \node[pbox, minimum width=110, minimum height=27] (conv11) at (287,4241) {\zt{\textbf{conv2d_11_24}\\(1, 512, 32, 32), 2.0 MB\\(in_channels=512, out_channels=512, kernel_size=(3, 3), padding=(1, 1))\\params: weight (512, 512, 3, 3) - bias (512,)\\@encoder.features.23}};
    \node[mbox, minimum width=40, minimum height=17] (relu10) at (287,4272.5) {\zt{\textbf{relu_10_23}\\(1, 512, 32, 32), 2.0 MB\\@encoder.features.22}};
    \node[pbox, minimum width=110, minimum height=27] (conv10) at (287,4303) {\zt{\textbf{conv2d_10_22}\\(1, 512, 32, 32), 2.0 MB\\(in_channels=512, out_channels=512, kernel_size=(3, 3), padding=(1, 1))\\params: weight (512, 512, 3, 3) - bias (512,)\\@encoder.features.21}};
    \node[mbox, minimum width=40, minimum height=17] (relu9) at (287,4335) {\zt{\textbf{relu_9_21}\\(1, 512, 32, 32), 2.0 MB\\@encoder.features.20}};
    \node[pbox, minimum width=110, minimum height=28] (conv9) at (287,4366) {\zt{\textbf{conv2d_9_20}\\(1, 512, 32, 32), 2.0 MB\\(in_channels=256, out_channels=512, kernel_size=(3, 3), padding=(1, 1))\\params: weight (512, 256, 3, 3) - bias (512,)\\@encoder.features.19}};
    \node[mbox, minimum width=42, minimum height=22] (maxpool3) at (304,4400) {\zt{\textbf{maxpool2d_3_19}\\(1, 256, 32, 32), 1.0 MB\\kernel_size=2, stride=2\\@encoder.features.18}};
    \node[mbox, minimum width=40, minimum height=17] (relu8) at (313,4428.5) {\zt{\textbf{relu_8_18}\\(1, 256, 64, 64), 4.0 MB\\@encoder.features.17}};
    \node[pbox, minimum width=110, minimum height=27] (conv8) at (287,4461) {\zt{\textbf{conv2d_8_17}\\(1, 256, 64, 64), 4.0 MB\\(in_channels=256, out_channels=256, kernel_size=(3, 3), padding=(1, 1))\\params: weight (256, 256, 3, 3) - bias (256,)\\@encoder.features.16}};
    \node[mbox, minimum width=40, minimum height=17] (relu7) at (287,4492) {\zt{\textbf{relu_7_16}\\(1, 256, 64, 64), 4.0 MB\\@encoder.features.15}};
    \node[pbox, minimum width=110, minimum height=27] (conv7) at (287,4524) {\zt{\textbf{conv2d_7_15}\\(1, 256, 64, 64), 4.0 MB\\(in_channels=256, out_channels=256, kernel_size=(3, 3), padding=(1, 1))\\params: weight (256, 256, 3, 3) - bias (256,)\\@encoder.features.14}};
    \node[mbox, minimum width=40, minimum height=17] (relu6) at (287,4555) {\zt{\textbf{relu_6_14}\\(1, 256, 64, 64), 4.0 MB\\@encoder.features.13}};
    \node[pbox, minimum width=110, minimum height=27] (conv6) at (287,4586.5) {\zt{\textbf{conv2d_6_13}\\(1, 256, 64, 64), 4.0 MB\\(in_channels=256, out_channels=256, kernel_size=(3, 3), padding=(1, 1))\\params: weight (256, 256, 3, 3) - bias (256,)\\@encoder.features.12}};
    \node[mbox, minimum width=40, minimum height=17] (relu5) at (287,4618.5) {\zt{\textbf{relu_5_12}\\(1, 256, 64, 64), 4.0 MB\\@encoder.features.11}};
    \node[pbox, minimum width=110, minimum height=27] (conv5) at (287,4649) {\zt{\textbf{conv2d_5_11}\\(1, 256, 64, 64), 4.0 MB\\(in_channels=128, out_channels=256, kernel_size=(3, 3), padding=(1, 1))\\params: weight (256, 128, 3, 3) - bias (256,)\\@encoder.features.10}};
    \node[mbox, minimum width=41, minimum height=22] (maxpool2) at (295,4683) {\zt{\textbf{maxpool2d_2_10}\\(1, 128, 64, 64), 2.0 MB\\kernel_size=2, stride=2\\@encoder.features.9}};
    \node[mbox, minimum width=44, minimum height=17] (relu4) at (311,4712) {\zt{\textbf{relu_4_9}\\(1, 128, 128, 128), 8.0 MB\\@encoder.features.8}};
    \node[pbox, minimum width=110, minimum height=27] (conv4) at (287,4744) {\zt{\textbf{conv2d_4_8}\\(1, 128, 128, 128), 8.0 MB\\(in_channels=128, out_channels=128, kernel_size=(3, 3), padding=(1, 1))\\params: weight (128, 128, 3, 3) - bias (128,)\\@encoder.features.7}};
    \node[mbox, minimum width=45, minimum height=17] (relu3) at (287,4775) {\zt{\textbf{relu_3_7}\\(1, 128, 128, 128), 8.0 MB\\@encoder.features.6}};
    \node[pbox, minimum width=108, minimum height=27] (conv3) at (287,4806.5) {\zt{\textbf{conv2d_3_6}\\(1, 128, 128, 128), 8.0 MB\\(in_channels=64, out_channels=128, kernel_size=(3, 3), padding=(1, 1))\\params: weight (128, 64, 3, 3) - bias (128,)\\@encoder.features.5}};
    \node[mbox, minimum width=43, minimum height=22] (maxpool1) at (287,4840) {\zt{\textbf{maxpool2d_1_5}\\(1, 64, 128, 128), 4.0 MB\\kernel_size=2, stride=2\\@encoder.features.4}};
    \node[mbox, minimum width=45, minimum height=17] (relu2) at (287,4869) {\zt{\textbf{relu_2_4}\\(1, 64, 256, 256), 16.0 MB\\@encoder.features.3}};
    \node[pbox, minimum width=106, minimum height=27] (conv2) at (287,4900) {\zt{\textbf{conv2d_2_3}\\(1, 64, 256, 256), 16.0 MB\\(in_channels=64, out_channels=64, kernel_size=(3, 3), padding=(1, 1))\\params: weight (64, 64, 3, 3) - bias (64,)\\@encoder.features.2}};
    \node[mbox, minimum width=45, minimum height=17] (relu1) at (287,4932.5) {\zt{\textbf{relu_1_2}\\(1, 64, 256, 256), 16.0 MB\\@encoder.features.1}};
    \node[pbox, minimum width=104, minimum height=27] (conv1) at (287,4963.5) {\zt{\textbf{conv2d_1_1}\\(1, 64, 256, 256), 16.0 MB\\(in_channels=3, out_channels=64, kernel_size=(3, 3), padding=(1, 1))\\params: weight (64, 3, 3, 3) - bias (64,)\\@encoder.features.0}};
    \node[fnode, draw=black, fill=ingreen, minimum width=61, minimum height=24] (input1) at (287,4998) {\zt{\textbf{input_1}\\(1, 3, 256, 256), 768.0 KB\\@input.x}};

    \draw[link] (conv55) -- (ident1);
    \draw[link] (conv55) -- (ident2);
    \draw[link] (conv55) -- (ident3);
    \draw[link] (conv55) -- (output1);
    \draw[link] (relu42) -- (conv55);
    \draw[link] (bn18) -- (relu42);
    \draw[link] (conv54) -- (bn18);
    \draw[link] (relu41) -- (conv54);
    \draw[link] (bn17) -- (relu41);
    \draw[link] (conv53) -- (bn17);
    \draw[link] (interp5) -- (conv53);
    \draw[link] (relu40) -- (interp5);

    \draw[link] (bn16) -- (relu40);
    \draw[link] (conv52) -- (bn16);
    \draw[link] (relu39) -- (conv52);
    \draw[link] (bn15) -- (relu39);
    \draw[link] (conv51) -- (bn15);
    \draw[link] (cat4) -- (conv51);
    \draw[link] (mul4) -- (cat4);
    \draw[link] (add5) -- (mul4);
    \draw[link] (sig7) -- (add5);
    \draw[link] (sig8) -- (add5);
    \draw[link] (conv48) -- (sig7);
    \draw[link] (relu37) -- (conv48);
    \draw[link] (conv47) -- (relu37);
    \draw[link] (avg7) -- (conv47);
    \draw[link] (interp4) -- (avg7);
    \draw[link] (conv50) -- (sig8);
    \draw[link] (relu38) -- (conv50);
    \draw[link] (conv49) -- (relu38);
    \draw[link] (avg8) -- (conv49);
    \draw[link] (interp4) .. controls (22,884) and (15,872) .. (15,850) -- (15,720) .. controls (15,690) and (50,678) .. (mul4);
    \draw[link] (relu36) -- (interp4);
    \draw[link] (bn14) -- (relu36);
    \draw[link] (conv46) -- (bn14);
    \draw[link] (relu35) -- (conv46);
    \draw[link] (bn13) -- (relu35);
    \draw[link] (conv45) -- (bn13);
    \draw[link] (relu34) -- (conv45);

    \draw[link] (bn12) -- (relu34);
    \draw[link] (conv44) -- (bn12);
    \draw[link] (relu33) -- (conv44);
    \draw[link] (bn11) -- (relu33);
    \draw[link] (conv43) -- (bn11);
    \draw[link] (cat3) -- (conv43);
    \draw[link] (mul3) -- (cat3);
    \draw[link] (add4) -- (mul3);
    \draw[link] (sig5) -- (add4);
    \draw[link] (sig6) -- (add4);
    \draw[link] (conv40) -- (sig5);
    \draw[link] (relu31) -- (conv40);
    \draw[link] (conv39) -- (relu31);
    \draw[link] (avg5) -- (conv39);
    \draw[link] (interp3) -- (avg5);
    \draw[link] (conv42) -- (sig6);
    \draw[link] (relu32) -- (conv42);
    \draw[link] (conv41) -- (relu32);
    \draw[link] (avg6) -- (conv41);
    \draw[link] (interp3) .. controls (18,1661) and (11,1650) .. (11,1625) -- (11,1490) .. controls (11,1462) and (30,1452) .. (mul3);
    \draw[link] (relu30) -- (interp3);
    \draw[link] (bn10) -- (relu30);
    \draw[link] (conv38) -- (bn10);
    \draw[link] (relu29) -- (conv38);
    \draw[link] (bn9) -- (relu29);
    \draw[link] (conv37) -- (bn9);
    \draw[link] (relu28) -- (conv37);

    \draw[link] (bn8) -- (relu28);
    \draw[link] (conv36) -- (bn8);
    \draw[link] (relu27) -- (conv36);
    \draw[link] (bn7) -- (relu27);
    \draw[link] (conv35) -- (bn7);
    \draw[link] (cat2) -- (conv35);
    \draw[link] (mul2) -- (cat2);
    \draw[link] (add3) -- (mul2);
    \draw[link] (sig3) -- (add3);
    \draw[link] (sig4) -- (add3);
    \draw[link] (conv32) -- (sig3);
    \draw[link] (relu25) -- (conv32);
    \draw[link] (conv31) -- (relu25);
    \draw[link] (avg3) -- (conv31);
    \draw[link] (interp2) -- (avg3);
    \draw[link] (conv34) -- (sig4);
    \draw[link] (relu26) -- (conv34);
    \draw[link] (conv33) -- (relu26);
    \draw[link] (avg4) -- (conv33);
    \draw[link] (interp2) .. controls (20,2436) and (13,2425) .. (13,2400) -- (13,2265) .. controls (13,2238) and (30,2228) .. (mul2);
    \draw[link] (relu24) -- (interp2);
    \draw[link] (bn6) -- (relu24);
    \draw[link] (conv30) -- (bn6);
    \draw[link] (relu23) -- (conv30);
    \draw[link] (bn5) -- (relu23);
    \draw[link] (conv29) -- (bn5);
    \draw[link] (relu22) -- (conv29);

    \draw[link] (bn4) -- (relu22);
    \draw[link] (conv28) -- (bn4);
    \draw[link] (relu21) -- (conv28);
    \draw[link] (bn3) -- (relu21);
    \draw[link] (conv27) -- (bn3);
    \draw[link] (cat1) -- (conv27);
    \draw[link] (mul1) -- (cat1);
    \draw[link] (add2) -- (mul1);
    \draw[link] (sig1) -- (add2);
    \draw[link] (sig2) -- (add2);
    \draw[link] (conv24) -- (sig1);
    \draw[link] (relu19) -- (conv24);
    \draw[link] (conv23) -- (relu19);
    \draw[link] (avg1) -- (conv23);
    \draw[link] (interp1) -- (avg1);
    \draw[link] (conv26) -- (sig2);
    \draw[link] (relu20) -- (conv26);
    \draw[link] (conv25) -- (relu20);
    \draw[link] (avg2) -- (conv25);
    \draw[link] (interp1) .. controls (19,3211) and (12,3200) .. (12,3175) -- (12,3040) .. controls (12,3012) and (35,3003) .. (mul1);
    \draw[link] (relu18) -- (interp1);
    \draw[link] (bn2) -- (relu18);
    \draw[link] (conv22) -- (bn2);
    \draw[link] (relu17) -- (conv22);
    \draw[link] (bn1) -- (relu17);
    \draw[link] (conv21) -- (bn1);
    \draw[link] (conv20) -- (conv21);

    \draw[link] (add1) -- (conv20);
    \draw[link] (reshape1) -- (add1);
    \draw[link] (matmul2) -- (reshape1);
    \draw[link] (view2) -- node[elab, pos=0.8, below] (argzerob) {arg 0} (matmul2);
    \draw[link] (transp2) -- node[elab, pos=0.7, right] (argoneb) {arg 1} (matmul2);
    \draw[link] (softmax1) -- (view2);
    \draw[link] (view1) -- (softmax1);
    \draw[link] (matmul1) -- (view1);
    \draw[link] (transp1) -- node[elab, pos=0.7, left] (argzeroa) {arg 0} (matmul1);
    \draw[link] (flatten1) -- node[elab, pos=0.8, below] (argonea) {arg 1} (matmul1);
    \draw[link] (flatten2) -- (transp1);
    \draw[link] (conv18) -- (flatten2);
    \draw[link] (conv17) -- (flatten1);
    \draw[link] (flatten3) -- (transp2);
    \draw[link] (conv19) -- (flatten3);
    \draw[link] (maxpool5) -- (conv17);
    \draw[link] (maxpool5) -- (conv18);
    \draw[link] (maxpool5) -- (conv19);
    \draw[link] ([xshift=-5pt]maxpool5.north) -- (247.5,3597) .. controls (247.5,3565) and (215,3550) .. (add1);

    \draw[link] (relu16) -- (maxpool5);
    \draw[link] (conv16) -- (relu16);
    \draw[link] (relu15) -- (conv16);
    \draw[link] (conv15) -- (relu15);
    \draw[link] (relu14) -- (conv15);
    \draw[link] (conv14) -- (relu14);
    \draw[link] (relu13) -- (conv14);
    \draw[link] (conv13) -- (relu13);
    \draw[link] (maxpool4) -- (conv13);
    \draw[link] (relu12) -- (maxpool4);
    \draw[link] (conv12) -- (relu12);
    \draw[link] (relu11) -- (conv12);
    \draw[link] (conv11) -- (relu11);
    \draw[link] (relu10) -- (conv11);
    \draw[link] (conv10) -- (relu10);
    \draw[link] (relu9) -- (conv10);
    \draw[link] (conv9) -- (relu9);
    \draw[link] (maxpool3) -- (conv9);
    \draw[link] (relu8) -- (maxpool3);
    \draw[link] (conv8) -- (relu8);
    \draw[link] (relu7) -- (conv8);
    \draw[link] (conv7) -- (relu7);
    \draw[link] (relu6) -- (conv7);
    \draw[link] (conv6) -- (relu6);
    \draw[link] (relu5) -- (conv6);
    \draw[link] (conv5) -- (relu5);
    \draw[link] (maxpool2) -- (conv5);
    \draw[link] (relu4) -- (maxpool2);
    \draw[link] (conv4) -- (relu4);
    \draw[link] (relu3) -- (conv4);
    \draw[link] (conv3) -- (relu3);
    \draw[link] (maxpool1) -- (conv3);
    \draw[link] (relu2) -- (maxpool1);
    \draw[link] (conv2) -- (relu2);
    \draw[link] (relu1) -- (conv2);
    \draw[link] (conv1) -- (relu1);
    \draw[link] (input1) -- (conv1);

    \draw[link] ([xshift=5pt]relu16.north) -- (289,3020) .. controls (289,3012) and (286,3008) .. (277,3006) -- (cat1);
    \draw[link] ([xshift=-5pt]relu16.north) -- (279,3285) .. controls (279,3230) and (250,3195) .. (avg2);
    \draw[link] (relu12) .. controls (345,4140) and (359,4120) .. (359,4090) -- (359,2252) .. controls (359,2242) and (355,2235) .. (345,2231) -- (cat2);
    \draw[link] (relu12) .. controls (338,4145) and (349,4125) .. (349,4095) -- (349,2482) .. controls (349,2452) and (345,2442) .. (333,2435) -- (avg4);
    \draw[link] (relu8) .. controls (360,4425) and (378,4405) .. (378,4370) -- (378,1498) .. controls (378,1478) and (374,1466) .. (364,1460) -- (cat3);
    \draw[link] (relu8) .. controls (352,4430) and (368,4410) .. (368,4375) -- (368,1720) .. controls (368,1692) and (364,1680) .. (352,1672) -- (avg6);
    \draw[link] (relu4) .. controls (372,4712) and (398,4700) .. (398,4660) -- (398,718) .. controls (398,698) and (393,690) .. (380,686) -- (cat4);
    \draw[link] (relu4) .. controls (365,4705) and (388,4690) .. (388,4650) -- (388,940) .. controls (388,922) and (384,916) .. (372,912) -- (avg8);
\end{tikzpicture}
\end{document}
